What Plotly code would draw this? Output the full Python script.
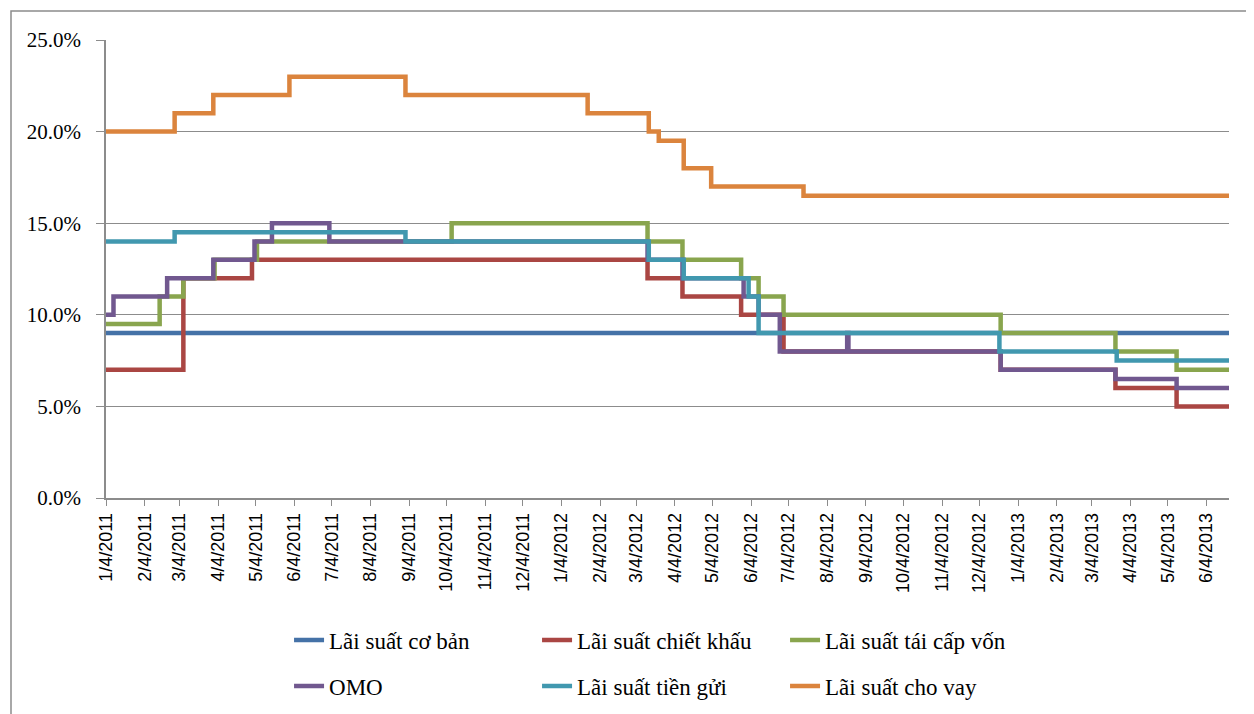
import plotly.graph_objects as go

END = "2013-06-22"

# Lãi suất cơ bản
base_dates = ["2011-01-04", END]
base_vals = [9.0, 9.0]

# Lãi suất chiết khấu
disc_dates = ["2011-01-04", "2011-03-07", "2011-05-01", "2012-03-13", "2012-04-10",
              "2012-05-27", "2012-06-30", "2012-12-21", "2013-03-23", "2013-05-11", END]
disc_vals = [7, 12, 13, 12, 11, 10, 8, 7, 6, 5, 5]

# Lãi suất tái cấp vốn
refi_dates = ["2011-01-04", "2011-02-16", "2011-03-07", "2011-04-01", "2011-05-05",
              "2011-10-08", "2012-03-13", "2012-04-10", "2012-05-27", "2012-06-10",
              "2012-06-30", "2012-12-21", "2013-03-23", "2013-05-11", END]
refi_vals = [9.5, 11, 12, 13, 14, 15, 14, 13, 12, 11, 10, 9, 8, 7, 7]

# OMO
omo_dates = ["2011-01-04", "2011-01-10", "2011-02-22", "2011-03-31", "2011-05-03",
             "2011-05-17", "2011-07-02", "2012-03-13", "2012-04-10", "2012-05-29",
             "2012-06-10", "2012-06-27", "2012-08-20", "2012-08-21", "2012-12-21",
             "2013-03-23", "2013-05-11", END]
omo_vals = [10, 11, 12, 13, 14, 15, 14, 13, 12, 11, 10, 8, 9, 8, 7, 6.5, 6, 6]

# Lãi suất tiền gửi
dep_dates = ["2011-01-04", "2011-02-28", "2011-09-01", "2012-03-14", "2012-04-11",
             "2012-06-02", "2012-06-10", "2012-12-20", "2013-03-24", END]
dep_vals = [14, 14.5, 14, 13, 12, 11, 9, 8, 7.5, 7.5]

# Lãi suất cho vay
lend_dates = ["2011-01-04", "2011-02-28", "2011-03-31", "2011-05-31", "2011-09-01",
              "2012-01-25", "2012-03-14", "2012-03-22", "2012-04-11", "2012-05-03",
              "2012-07-16", END]
lend_vals = [20, 21, 22, 23, 22, 21, 20, 19.5, 18, 17, 16.5, 16.5]

tick_dates = ["2011-01-04", "2011-02-04", "2011-03-04", "2011-04-04", "2011-05-04",
              "2011-06-04", "2011-07-04", "2011-08-04", "2011-09-04", "2011-10-04",
              "2011-11-04", "2011-12-04", "2012-01-04", "2012-02-04", "2012-03-04",
              "2012-04-04", "2012-05-04", "2012-06-04", "2012-07-04", "2012-08-04",
              "2012-09-04", "2012-10-04", "2012-11-04", "2012-12-04", "2013-01-04",
              "2013-02-04", "2013-03-04", "2013-04-04", "2013-05-04", "2013-06-04"]
tick_labels = ["1/4/2011", "2/4/2011", "3/4/2011", "4/4/2011", "5/4/2011", "6/4/2011",
               "7/4/2011", "8/4/2011", "9/4/2011", "10/4/2011", "11/4/2011", "12/4/2011",
               "1/4/2012", "2/4/2012", "3/4/2012", "4/4/2012", "5/4/2012", "6/4/2012",
               "7/4/2012", "8/4/2012", "9/4/2012", "10/4/2012", "11/4/2012", "12/4/2012",
               "1/4/2013", "2/4/2013", "3/4/2013", "4/4/2013", "5/4/2013", "6/4/2013"]

series = [
    ("Lãi suất cơ bản", base_dates, base_vals, "#4572A7", "legend"),
    ("Lãi suất chiết khấu", disc_dates, disc_vals, "#AA4643", "legend"),
    ("Lãi suất tái cấp vốn", refi_dates, refi_vals, "#89A54E", "legend"),
    ("OMO", omo_dates, omo_vals, "#71588F", "legend2"),
    ("Lãi suất tiền gửi", dep_dates, dep_vals, "#4198AF", "legend2"),
    ("Lãi suất cho vay", lend_dates, lend_vals, "#DB843D", "legend2"),
]

fig = go.Figure()
for name, d, v, c, lg in series:
    fig.add_trace(go.Scatter(x=d, y=[val / 100 for val in v], name=name, mode="lines",
                             line=dict(color=c, width=4.5, shape="hv"), legend=lg))

grid = "#8C8C8C"
serif = "Liberation Serif"
leg_common = dict(orientation="h", xanchor="left", yanchor="middle", yref="container",
                  font=dict(family=serif, size=23, color="#000"),
                  entrywidth=203, entrywidthmode="pixels", bgcolor="rgba(0,0,0,0)",
                  itemwidth=30, tracegroupgap=0)

# page has an 8px body margin: figure is 1246x706, offset by 8px
fig.update_layout(
    width=1246, height=706,
    margin=dict(l=98, r=25, t=32, b=216, autoexpand=False),
    paper_bgcolor="white", plot_bgcolor="white",
    showlegend=True,
    legend=dict(x=0.163, y=0.1049, **leg_common),
    legend2=dict(x=0.163, y=0.0397, **leg_common),
    xaxis=dict(type="date", range=["2011-01-04", END], tickmode="array",
               tickvals=tick_dates, ticktext=tick_labels, tickangle=-90,
               ticks="outside", ticklen=6, tickcolor=grid, tickwidth=1.3,
               showline=True, linecolor=grid, linewidth=1.5, showgrid=False,
               zeroline=False,
               tickfont=dict(family="Liberation Sans", size=18, color="#000")),
    yaxis=dict(range=[0, 0.25], tickvals=[0, 0.05, 0.10, 0.15, 0.20, 0.25],
               tickformat=".1%", ticks="outside", ticklen=8, tickcolor=grid,
               tickwidth=1.3, showline=True, linecolor=grid, linewidth=1.5,
               showgrid=True, gridcolor=grid, gridwidth=1.3, zeroline=False,
               ticklabelstandoff=11,
               tickfont=dict(family=serif, size=21, color="#000")),
    shapes=[dict(type="rect", xref="paper", yref="paper",
                 x0=(3 - 98) / 1123, x1=(1260 - 98) / 1123,
                 y0=(490 - 730) / 458, y1=(490 - 3) / 458,
                 line=dict(color="#8C8C8C", width=1.5), fillcolor="rgba(0,0,0,0)",
                 layer="below")],
)

fig.write_html("out.html")
